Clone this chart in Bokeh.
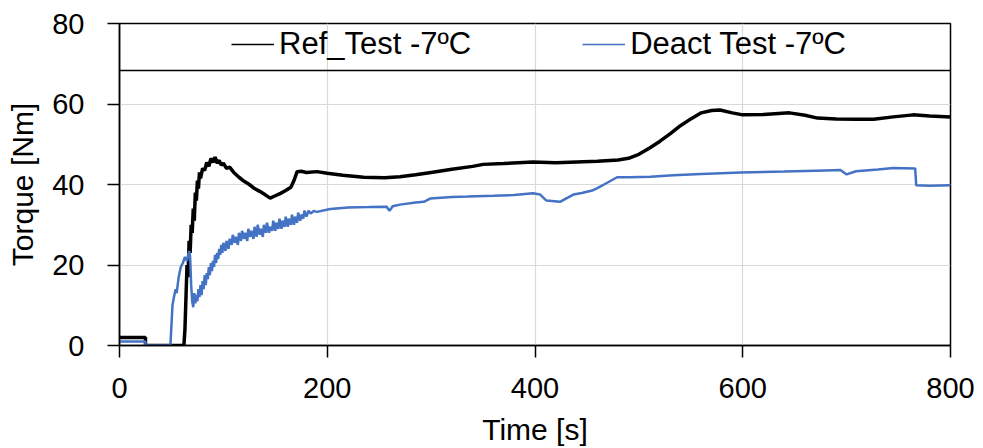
from bokeh.plotting import figure
from bokeh.models import Range1d, Legend, LegendItem, Span, FixedTicker
from bokeh.embed import file_html
from bokeh.resources import INLINE

# Ref_Test -7ºC (black) : time [s], torque [Nm]
ref_t = [0, 25, 25, 62, 63, 64, 65, 66, 67, 68, 69, 70, 71, 72, 73, 74, 75, 76, 77, 78,
         80, 82, 84, 86, 88, 90, 92, 94, 96, 98, 100, 103, 106, 110, 115, 120, 125, 130,
         135, 140, 145, 150, 155, 160, 165, 168, 171, 175, 180, 190, 200, 215, 235, 255,
         270, 285, 300, 320, 340, 350, 370, 398, 420, 440, 460, 480, 490, 500, 510, 520,
         530, 540, 550, 560, 570, 578, 590, 600, 620, 645, 660, 672, 690, 710, 726, 745,
         764, 780, 800]
ref_y = [2, 2, 0, 0, 4, 12, 20, 17, 26, 23, 30, 28, 34, 31, 38, 36, 41, 39, 43, 41.5,
         44, 43.5, 45.5, 44.5, 46.5, 45.5, 46.8, 45.3, 46, 44.8, 45.3, 44, 44.3, 43, 41.8, 40.8, 40, 39,
         38.3, 37.5, 36.6, 37.2, 37.8, 38.5, 39.3, 41, 43.2, 43.3, 43, 43.2, 42.8, 42.3, 41.8, 41.7,
         41.9, 42.4, 43, 43.8, 44.5, 45, 45.2, 45.6, 45.4, 45.6, 45.8, 46.1, 46.5, 47.5, 49, 50.7,
         52.6, 54.6, 56.3, 57.8, 58.4, 58.5, 57.8, 57.3, 57.4, 57.8, 57.2, 56.5, 56.3, 56.2, 56.2, 56.8,
         57.3, 57.0, 56.8]

# Deact Test -7ºC (blue)
deact_t = [0, 25, 25, 49, 50, 51, 52, 54, 55, 57, 59, 61, 63, 65, 67, 68,
           69, 70, 71, 72, 73, 74, 75, 76, 77, 78, 79, 80, 81, 82, 83, 84, 85, 86, 87, 88,
           89, 90, 91, 92, 93, 94, 95, 96, 97, 98, 99, 100, 102, 103, 105, 106, 108, 109,
           111, 112, 114, 115, 117, 118, 120, 121, 123, 124, 126, 127, 129, 130, 132, 133,
           135, 136, 138, 139, 141, 142, 144, 145, 147, 148, 150, 151, 153, 154, 156, 157,
           159, 160, 162, 163, 165, 166, 168, 169, 171, 172, 174, 175, 177, 178, 180, 182,
           184, 187, 190, 203, 220, 240, 257, 260, 263, 270, 285, 293, 299, 320, 335, 360,
           380, 398, 405, 411, 424, 432, 437, 445, 455, 460, 470, 479, 490, 511, 533, 560,
           598, 640, 680, 694, 700, 709, 730, 745, 766, 767, 780, 800]
deact_y = [1, 1, 0, 0, 5, 10, 11.5, 14, 13, 17, 19.5, 20.5, 22, 21, 23.5, 22,
           15, 11, 9.5, 13, 10.5, 12.5, 11, 14, 12, 15, 12.5, 16, 14, 17.5, 15, 18, 16.5, 19.5, 17.5, 20.5,
           18.5, 21, 19.5, 22.5, 20.5, 23, 21.5, 24, 22.5, 25, 23, 25.5, 23.5, 26, 24, 26.5, 25, 27.5,
           25.5, 27, 25, 28, 26, 28.5, 26.5, 28, 26, 29, 27, 28.5, 26.5, 29.5, 27, 30,
           27.5, 29, 27, 30, 28, 30.5, 28, 29.5, 28.5, 31, 28.5, 30.5, 29, 31.5, 29, 31,
           29.5, 32, 29.5, 31.5, 30, 32.5, 30, 32, 30.5, 33, 31, 32.5, 31.5, 33.5, 32, 33.5,
           32.8, 33.4, 33.2, 33.9, 34.3, 34.4, 34.5, 33.5, 34.6, 35, 35.5, 35.7, 36.5, 36.9, 37, 37.2,
           37.4, 37.8, 37.5, 36, 35.7, 36.8, 37.5, 37.9, 38.5, 39.1, 40.5, 41.8, 41.8, 41.9, 42.3, 42.6,
           43, 43.2, 43.5, 43.6, 42.5, 43.3, 43.7, 44.1, 44, 39.8, 39.7, 39.8]

x_ticks = [0, 200, 400, 600, 800]
y_ticks = [0, 20, 40, 60, 80]

FONT = "Liberation Sans"
BLUE = "#4472c4"

p = figure(width=983, height=448, output_backend="svg", toolbar_location=None,
           x_range=Range1d(0, 800), y_range=Range1d(0, 80),
           min_border_left=119, min_border_right=33, min_border_top=23, min_border_bottom=102,
           x_axis_label="Time [s]", y_axis_label="Torque [Nm]")

p.outline_line_color = "black"
p.outline_line_width = 1.5

for ax in (p.xaxis[0], p.yaxis[0]):
    ax.axis_line_color = "black"
    ax.axis_line_width = 1.5
    ax.major_tick_line_color = "black"
    ax.major_tick_line_width = 1.5
    ax.major_tick_in = 0
    ax.major_tick_out = 12
    ax.minor_tick_line_color = None
    ax.major_label_text_font = FONT
    ax.major_label_text_font_size = "29px"
    ax.major_label_text_color = "black"
    ax.axis_label_text_font = FONT
    ax.axis_label_text_font_size = "30px"
    ax.axis_label_text_font_style = "normal"
    ax.axis_label_text_color = "black"

p.xaxis.ticker = FixedTicker(ticks=x_ticks)
p.yaxis.ticker = FixedTicker(ticks=y_ticks)
p.xaxis.major_label_standoff = 20
p.yaxis.major_label_standoff = 23
p.xaxis.axis_label_standoff = 12
p.yaxis.axis_label_standoff = 10

p.grid.grid_line_color = "#d9d9d9"
p.grid.grid_line_width = 1.2

p.line(ref_t, ref_y, line_color="black", line_width=3.5)
p.line(deact_t, deact_y, line_color=BLUE, line_width=2.5)

# thin proxy lines (nothing drawn) only for the legend swatches
nan = float("nan")
leg_ref = p.line([nan], [nan], line_color="black", line_width=1.5)
leg_deact = p.line([nan], [nan], line_color=BLUE, line_width=1.5)

# legend band across the top of the plot
p.add_layout(Span(location=68.3, dimension="width", line_color="black", line_width=1.5))

legend = Legend(items=[
    LegendItem(label="Ref_Test -7ºC", renderers=[leg_ref]),
    LegendItem(label="Deact Test -7ºC", renderers=[leg_deact]),
], location=(112, 283), orientation="horizontal")
legend.background_fill_alpha = 0
legend.border_line_alpha = 0
legend.label_text_font = FONT
legend.label_text_font_size = "31px"
legend.label_text_color = "black"
legend.glyph_width = 43
legend.label_standoff = 5
legend.spacing = 111
legend.padding = 0
legend.margin = 0
p.add_layout(legend)

open("out.html", "w").write(file_html(p, INLINE))
